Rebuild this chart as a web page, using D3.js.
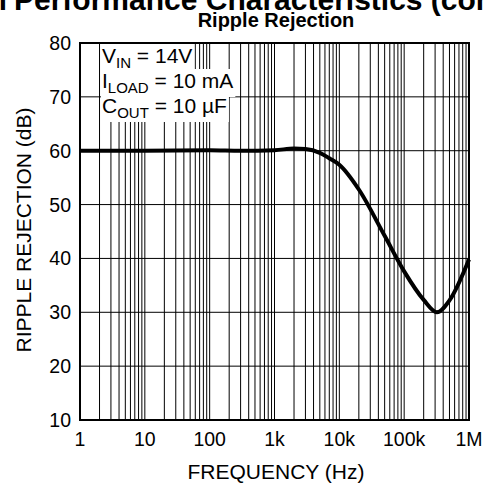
<!DOCTYPE html>
<html>
<head>
<meta charset="utf-8">
<script src="https://cdn.jsdelivr.net/npm/d3@7"></script>
<style>
body { margin: 0; background: #fff; }
text { font-family: Arial, "Liberation Sans", sans-serif; fill: #000; }
.grid line { stroke: #000; stroke-width: 1; }
</style>
</head>
<body>
<script>
// curve: frequency (Hz) vs ripple rejection (dB)
var freq = [1, 10, 100, 300, 1000, 2000, 3000, 5000, 7000, 10000, 20000, 50000, 100000, 200000, 320000, 500000, 1000000];
var rejection = [60, 60, 60.1, 60, 60.1, 60.4, 60.3, 59.6, 58.6, 57.4, 52.8, 44.2, 37.6, 32.3, 30, 32.2, 39.8];
var xTicks = [1, 10, 100, 1000, 10000, 100000, 1000000];
var xTickLabels = ["1", "10", "100", "1k", "10k", "100k", "1M"];
var yTicks = [10, 20, 30, 40, 50, 60, 70, 80];
var conditions = [["V", "IN", " = 14V"], ["I", "LOAD", " = 10 mA"], ["C", "OUT", " = 10 µF"]];

var W = 486, H = 489;
var plotLeft = 80, plotRight = 469, plotTop = 43, plotBottom = 420;

var svg = d3.select("body").append("svg").attr("width", W).attr("height", H);

var x = d3.scaleLog().domain([1, 1e6]).range([plotLeft, plotRight]);
var y = d3.scaleLinear().domain([10, 80]).range([plotBottom, plotTop]);

// minor decade lines
var minor = [];
for (var e = 0; e < 6; e++) {
  for (var m = 1; m < 10; m++) minor.push(m * Math.pow(10, e));
}
minor.push(1e6);

var grid = svg.append("g").attr("class", "grid");
grid.selectAll(".v").data(minor).enter().append("line")
  .attr("x1", function(d) { return x(d); }).attr("x2", function(d) { return x(d); })
  .attr("y1", plotTop).attr("y2", plotBottom);
grid.selectAll(".h").data(yTicks).enter().append("line")
  .attr("x1", plotLeft).attr("x2", plotRight)
  .attr("y1", function(d) { return y(d); }).attr("y2", function(d) { return y(d); });

// conditions box, white behind each line of text
var note = svg.append("g");
conditions.forEach(function(c, i) {
  var t = note.append("text").attr("x", 102).attr("y", 63 + i * 25).style("font-size", "21px");
  t.append("tspan").text(c[0]);
  t.append("tspan").attr("dy", 5).style("font-size", "15px").text(c[1]);
  t.append("tspan").attr("dy", -5).text(c[2]);
  var b = t.node().getBBox();
  note.insert("rect", "text").attr("x", b.x - 1).attr("y", b.y).attr("width", b.width + 3).attr("height", b.height + 1).attr("fill", "#fff");
});

// frame
svg.append("rect").attr("x", plotLeft).attr("y", plotTop).attr("width", plotRight - plotLeft).attr("height", plotBottom - plotTop)
  .attr("fill", "none").attr("stroke", "#000").attr("stroke-width", 2);

var line = d3.line()
  .x(function(d, i) { return x(freq[i]); })
  .y(function(d) { return y(d); })
  .curve(d3.curveMonotoneX);
svg.append("path").datum(rejection).attr("d", line)
  .attr("fill", "none").attr("stroke", "#000").attr("stroke-width", 4);

// tick labels
svg.selectAll(".xl").data(xTicks).enter().append("text")
  .attr("x", function(d) { return x(d); }).attr("y", 446)
  .attr("text-anchor", "middle").style("font-size", "19.5px")
  .text(function(d, i) { return xTickLabels[i]; });
svg.selectAll(".yl").data(yTicks).enter().append("text")
  .attr("x", 71).attr("y", function(d) { return y(d) + 7; })
  .attr("text-anchor", "end").style("font-size", "19.5px")
  .text(function(d) { return d; });

svg.append("text").attr("x", 276).attr("y", 479).attr("text-anchor", "middle")
  .style("font-size", "21px").text("FREQUENCY (Hz)");
svg.append("text").attr("transform", "translate(31,230) rotate(-90)")
  .attr("text-anchor", "middle").style("font-size", "21px").text("RIPPLE REJECTION (dB)");

svg.append("text").attr("x", 276).attr("y", 26.5).attr("text-anchor", "middle")
  .style("font-size", "20px").style("font-weight", "bold").text("Ripple Rejection");

// page heading cut off at the top
svg.append("text").attr("x", 7).attr("y", 10).attr("text-anchor", "end")
  .style("font-size", "30px").style("font-weight", "bold").text("Typical");
svg.append("text").attr("x", 14).attr("y", 10)
  .style("font-size", "30px").style("font-weight", "bold").text("Performance Characteristics (continued)");
</script>
</body>
</html>
